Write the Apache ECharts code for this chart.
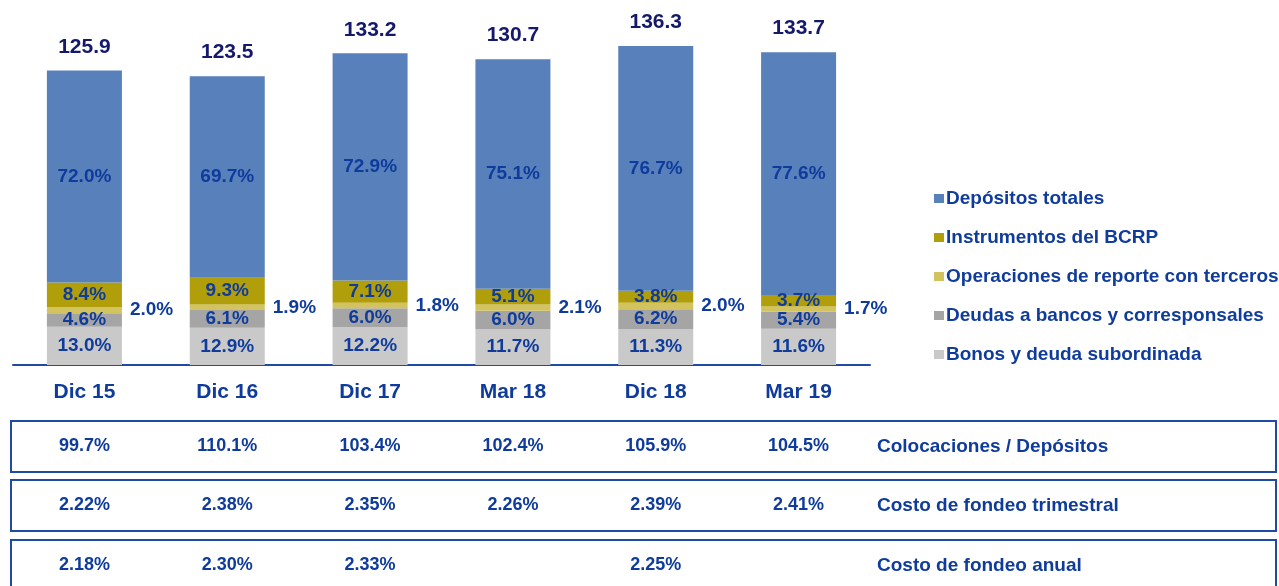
<!DOCTYPE html>
<html>
<head>
<meta charset="utf-8">
<script src="https://cdn.jsdelivr.net/npm/echarts@6/dist/echarts.min.js"></script>
<style>
  html, body { margin: 0; padding: 0; background: #fff; }
  #chart { width: 1279px; height: 586px; }
</style>
</head>
<body>
<div id="chart"></div>
<script>
// Fondeo: estructura por fuente (% del total) y ratios por periodo
var periods = ['Dic 15', 'Dic 16', 'Dic 17', 'Mar 18', 'Dic 18', 'Mar 19'];
var totals = [125.9, 123.5, 133.2, 130.7, 136.3, 133.7];

var depositosPct = [72.0, 69.7, 72.9, 75.1, 76.7, 77.6];
var bcrpPct = [8.4, 9.3, 7.1, 5.1, 3.8, 3.7];
var reportePct = [2.0, 1.9, 1.8, 2.1, 2.0, 1.7];
var deudasPct = [4.6, 6.1, 6.0, 6.0, 6.2, 5.4];
var bonosPct = [13.0, 12.9, 12.2, 11.7, 11.3, 11.6];

var colocDep = [99.7, 110.1, 103.4, 102.4, 105.9, 104.5];
var costoTrim = [2.22, 2.38, 2.35, 2.26, 2.39, 2.41];
var costoAnual = [2.18, 2.30, 2.33, null, 2.25, null];

var rowTitles = ['Colocaciones / Depósitos', 'Costo de fondeo trimestral', 'Costo de fondeo anual'];

(function() {
  var blue = '#0F3C9C';
  var navy = '#15196B';
  var font = '"Liberation Sans", Arial, sans-serif';

  var chart = echarts.init(document.getElementById('chart'), null, { renderer: 'canvas' });

  function segment(name, pct, color, labelPos) {
    return {
      name: name,
      type: 'bar',
      stack: 'total',
      xAxisIndex: 0,
      yAxisIndex: 0,
      barWidth: 75,
      itemStyle: { color: color },
      label: {
        show: true,
        position: labelPos || 'inside',
        distance: 8,
        color: blue,
        fontFamily: font,
        fontWeight: 'bold',
        fontSize: 19,
        formatter: function(p) { return pct[p.dataIndex].toFixed(1) + '%'; }
      },
      data: totals.map(function(t, i) { return t * pct[i] / 100; })
    };
  }

  function tableRow(idx, values, digits) {
    return {
      type: 'scatter',
      xAxisIndex: idx + 1,
      yAxisIndex: idx + 1,
      symbolSize: 0,
      silent: true,
      itemStyle: { opacity: 1 },
      label: {
        show: true,
        position: 'inside',
        color: blue,
        fontFamily: font,
        fontWeight: 'bold',
        fontSize: 18,
        formatter: function(p) { return values[p.value[0]].toFixed(digits) + '%'; }
      },
      data: values.map(function(v, i) { return v == null ? null : [i, 0]; }).filter(function(d) { return d; })
    };
  }

  // boxes of the table below the bars; the last one is cut by the bottom edge
  var rowTops = [421, 480, 540];

  var grids = [{ left: 13, right: 409, top: 14, height: 351 }];
  var xAxes = [{
    type: 'category',
    gridIndex: 0,
    data: periods,
    axisTick: { show: false },
    axisLine: { lineStyle: { color: '#1F4BA6', width: 2 } },
    axisLabel: { color: blue, fontFamily: font, fontWeight: 'bold', fontSize: 21, margin: 17 }
  }];
  var yAxes = [{ type: 'value', gridIndex: 0, min: 0, max: 150, show: false }];
  rowTops.forEach(function(top, k) {
    grids.push({ left: 13, right: 409, top: top + 15, height: 21 });
    xAxes.push({ type: 'category', gridIndex: k + 1, data: periods, show: false });
    yAxes.push({
      type: 'category',
      gridIndex: k + 1,
      data: [rowTitles[k]],
      position: 'right',
      axisLine: { show: false },
      axisTick: { show: false },
      splitLine: { show: false },
      axisLabel: { color: blue, fontFamily: font, fontWeight: 'bold', fontSize: 19, margin: 7 }
    });
  });

  chart.setOption({
    animation: false,
    backgroundColor: '#fff',
    textStyle: { fontFamily: font },
    legend: {
      orient: 'vertical',
      left: 934,
      top: 189,
      padding: 0,
      itemWidth: 10,
      itemHeight: 9,
      itemGap: 20,
      icon: 'rect',
      data: ['Depósitos totales', 'Instrumentos del BCRP', 'Operaciones de reporte con terceros',
             'Deudas a bancos y corresponsales', 'Bonos y deuda subordinada'],
      textStyle: { color: blue, fontFamily: font, fontWeight: 'bold', fontSize: 19, padding: [0, 0, 0, -3] }
    },
    graphic: rowTops.map(function(top) {
      return {
        type: 'rect',
        shape: { x: 11, y: top, width: 1265, height: 51 },
        style: { fill: 'none', stroke: '#1F4BA6', lineWidth: 2 },
        silent: true
      };
    }),
    grid: grids,
    xAxis: xAxes,
    yAxis: yAxes,
    series: [
      segment('Bonos y deuda subordinada', bonosPct, '#C9C9C9'),
      segment('Deudas a bancos y corresponsales', deudasPct, '#A5A5A5'),
      segment('Operaciones de reporte con terceros', reportePct, '#D3C35E', 'right'),
      segment('Instrumentos del BCRP', bcrpPct, '#B09E0B'),
      segment('Depósitos totales', depositosPct, '#5880BA'),
      {
        name: 'Total',
        type: 'scatter',
        xAxisIndex: 0,
        yAxisIndex: 0,
        symbolSize: 0,
        silent: true,
        itemStyle: { opacity: 1 },
        label: {
          show: true,
          position: 'top',
          distance: 13,
          color: navy,
          fontFamily: font,
          fontWeight: 'bold',
          fontSize: 21,
          formatter: function(p) { return totals[p.dataIndex].toFixed(1); }
        },
        data: totals
      },
      tableRow(0, colocDep, 1),
      tableRow(1, costoTrim, 2),
      tableRow(2, costoAnual, 2)
    ]
  });
})();
</script>
</body>
</html>
